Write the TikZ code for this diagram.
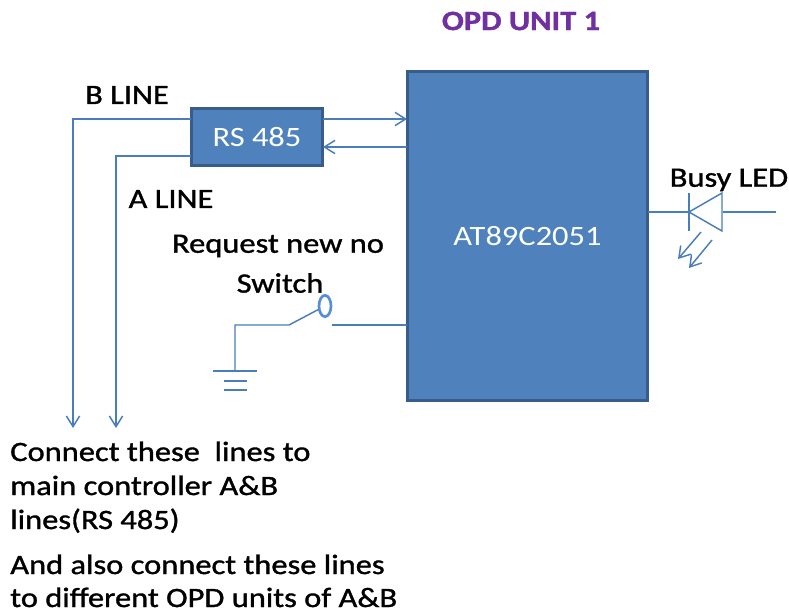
\documentclass[tikz,border=0pt]{standalone}
\usepackage{fontspec}
\setmainfont[FakeStretch=1.16,FakeBold=1.2]{Carlito}
\newfontfamily\chipfont[FakeStretch=1.16]{Carlito}
\usetikzlibrary{arrows.meta,shapes.geometric}
\definecolor{boxblue}{HTML}{4F81BD}
\definecolor{boxedge}{HTML}{385D8A}
\definecolor{wireblue}{HTML}{4A7EBB}
\definecolor{contactblue}{HTML}{558ED5}
\definecolor{unitpurple}{HTML}{7030A0}
\tikzstyle{chip} = [draw=boxedge,fill=boxblue,line width=2.6pt,inner sep=0pt,text=white,font=\chipfont\fontsize{21}{21}\selectfont]
\tikzstyle{wire} = [draw=wireblue,line width=1.1pt]
\tikzstyle{signal} = [wire,-{Straight Barb[length=8pt,width=10pt]}]
\tikzstyle{label} = [font=\fontsize{21}{21}\selectfont,text=black,inner sep=0pt]
\tikzstyle{note} = [label,anchor=base west]

\begin{document}
\begin{tikzpicture}[x=0.75pt,y=-0.75pt]
	\useasboundingbox (0,0) rectangle (789,614);
	\node[chip,minimum width=180pt,minimum height=247pt] at (527.5,236) (mcu) {AT89C2051};
	\node[chip,minimum width=98pt,minimum height=43pt] at (257,137) (rs) {RS 485};

	\node[font=\fontsize{21}{21}\selectfont\bfseries,text=unitpurple] at (521,21) (unit) {OPD UNIT 1};
	\node[label] at (127,95) (bline) {B LINE};
	\node[label] at (171,199) (aline) {A LINE};
	\node[label] at (278,246) (req) {Request new no};
	\node[label] at (280,283) (swtext) {Switch};
	\node[label] at (729,180) (led) {Busy LED};

	% rs485 lines
	\coordinate (bout) at (191,119);
	\coordinate (bend) at (73,428);
	\coordinate (aout) at (191,156);
	\coordinate (aend) at (116,428);
	\draw[signal] (bout) -| (bend);
	\draw[signal] (aout) -| (aend);
	\coordinate (txa) at (323,119);
	\coordinate (txb) at (407,119);
	\coordinate (rxa) at (407,147);
	\coordinate (rxb) at (323,147);
	\draw[signal] (txa) -- (txb);
	\draw[signal] (rxa) -- (rxb);

	% led
	\coordinate (ledin) at (648,212);
	\coordinate (ledtip) at (689,212);
	\coordinate (ledtop) at (722,193);
	\coordinate (ledbot) at (722,231);
	\coordinate (ledout) at (776,212);
	\draw[wire] (ledin) -- (ledtip);
	\draw[wire] (689,193) -- (689,231);
	\draw[wire] (ledtip) -- (ledtop) -- (ledbot) -- cycle;
	\draw[wire] (723,212) -- (ledout);
	\draw[signal] (701,232) -- (678,259);
	\draw[signal] (712,240) -- (689,268);

	% switch and ground
	\coordinate (swin) at (407,325);
	\coordinate (swgap) at (332,325);
	\coordinate (swpivot) at (289,325);
	\coordinate (gnd) at (235,371);
	\node[draw=contactblue,line width=2pt,ellipse,minimum width=9pt,minimum height=16pt,inner sep=0pt] at (325,306) (contact) {};
	\draw[wire] (swin) -- (swgap);
	\draw[wire] (contact) -- (swpivot) -- (235,325) -- (gnd);
	\draw[wire] (213,371) -- (257,371);
	\draw[wire] (224,381) -- (247,381);
	\draw[wire] (224,390) -- (247,390);

	\node[note] at (10,461) (n1) {Connect these\ \ lines to};
	\node[note] at (10,495) (n2) {main controller A\&B};
	\node[note] at (10,529) (n3) {lines(RS 485)};
	\node[note] at (10,574) (n4) {And also connect these lines};
	\node[note] at (10,607) (n5) {to different OPD units of A\&B};
\end{tikzpicture}
\end{document}
